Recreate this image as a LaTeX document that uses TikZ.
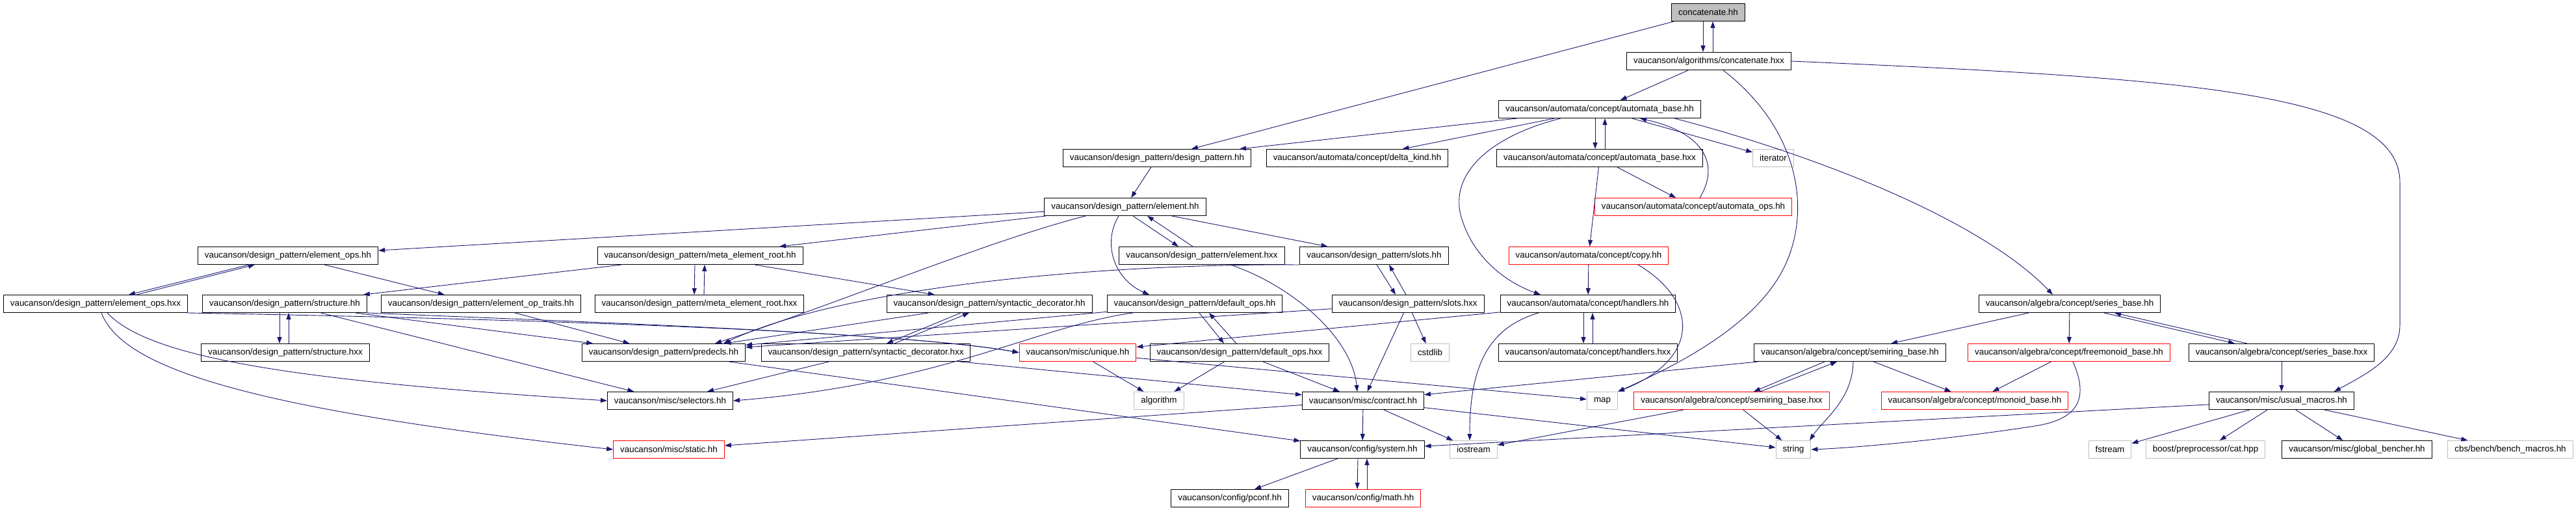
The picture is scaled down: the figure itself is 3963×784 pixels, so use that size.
\documentclass[tikz,border=0pt]{standalone}
\usepackage{fontspec}
\setmainfont{Liberation Sans}
\usetikzlibrary{arrows.meta}
\definecolor{edgeblue}{RGB}{25,25,112}
\definecolor{sysgray}{RGB}{191,191,191}
\tikzset{
  file/.style={draw=black, fill=white, line width=1pt, minimum height=27pt,
    inner xsep=10.5pt, inner ysep=0pt, font=\fontsize{13.4}{16}\selectfont},
  redfile/.style={file, draw=red},
  sysfile/.style={file, draw=sysgray},
  rootfile/.style={file, fill=sysgray},
  edge/.style={draw=edgeblue, line width=0.9pt, -{Triangle[length=10pt,width=7pt]}},
}
\begin{document}
\begin{tikzpicture}[x=1pt,y=1pt,yscale=-1,xscale=1]
\useasboundingbox (0,0) rectangle (3963,784);
% files
\node[rootfile] (concat) at (2628,19) {concatenate.hh};
\node[file] (concathxx) at (2629,94) {vaucanson/algorithms/concatenate.hxx};
\node[file] (autbase) at (2461,168) {vaucanson/automata/concept/automata\_base.hh};
\node[file] (dpattern) at (1780,243) {vaucanson/design\_pattern/design\_pattern.hh};
\node[file] (deltakind) at (2088,243) {vaucanson/automata/concept/delta\_kind.hh};
\node[file] (autbasehxx) at (2461,243) {vaucanson/automata/concept/automata\_base.hxx};
\node[sysfile] (iterator) at (2728,243) {iterator};
\node[file] (element) at (1731,318) {vaucanson/design\_pattern/element.hh};
\node[redfile] (autops) at (2605,318) {vaucanson/automata/concept/automata\_ops.hh};
\node[file] (elemops) at (443,393) {vaucanson/design\_pattern/element\_ops.hh};
\node[file] (metaroot) at (1077,393) {vaucanson/design\_pattern/meta\_element\_root.hh};
\node[file] (elemhxx) at (1849,393) {vaucanson/design\_pattern/element.hxx};
\node[file] (slots) at (2114,393) {vaucanson/design\_pattern/slots.hh};
\node[redfile] (copy) at (2444,393) {vaucanson/automata/concept/copy.hh};
\node[file] (elemopshxx) at (147,467) {vaucanson/design\_pattern/element\_ops.hxx};
\node[file] (structure) at (438,467) {vaucanson/design\_pattern/structure.hh};
\node[file] (optraits) at (740,467) {vaucanson/design\_pattern/element\_op\_traits.hh};
\node[file] (metaroothxx) at (1076,467) {vaucanson/design\_pattern/meta\_element\_root.hxx};
\node[file] (syndec) at (1522,467) {vaucanson/design\_pattern/syntactic\_decorator.hh};
\node[file] (defops) at (1838,467) {vaucanson/design\_pattern/default\_ops.hh};
\node[file] (slotshxx) at (2166,467) {vaucanson/design\_pattern/slots.hxx};
\node[file] (handlers) at (2443,467) {vaucanson/automata/concept/handlers.hh};
\node[file] (series) at (3184,467) {vaucanson/algebra/concept/series\_base.hh};
\node[file] (structhxx) at (439,542) {vaucanson/design\_pattern/structure.hxx};
\node[file] (predecls) at (1021,542) {vaucanson/design\_pattern/predecls.hh};
\node[file] (syndechxx) at (1332,542) {vaucanson/design\_pattern/syntactic\_decorator.hxx};
\node[redfile] (unique) at (1658,542) {vaucanson/misc/unique.hh};
\node[file] (defopshxx) at (1907,542) {vaucanson/design\_pattern/default\_ops.hxx};
\node[sysfile] (cstdlib) at (2200,542) {cstdlib};
\node[file] (handlershxx) at (2443,542) {vaucanson/automata/concept/handlers.hxx};
\node[file] (semiring) at (2846,542) {vaucanson/algebra/concept/semiring\_base.hh};
\node[redfile] (freemonoid) at (3183,542) {vaucanson/algebra/concept/freemonoid\_base.hh};
\node[file] (serieshxx) at (3510,542) {vaucanson/algebra/concept/series\_base.hxx};
\node[file] (selectors) at (1031,616) {vaucanson/misc/selectors.hh};
\node[sysfile] (algorithm) at (1783,616) {algorithm};
\node[file] (contract) at (2097,616) {vaucanson/misc/contract.hh};
\node[sysfile] (map) at (2465,616) {map};
\node[redfile] (semiringhxx) at (2664,616) {vaucanson/algebra/concept/semiring\_base.hxx};
\node[redfile] (monoid) at (3038,616) {vaucanson/algebra/concept/monoid\_base.hh};
\node[file] (usual) at (3510,616) {vaucanson/misc/usual\_macros.hh};
\node[redfile] (static) at (1029,691) {vaucanson/misc/static.hh};
\node[file] (system) at (2096,691) {vaucanson/config/system.hh};
\node[sysfile] (iostream) at (2267,691) {iostream};
\node[sysfile] (string) at (2759,691) {string};
\node[sysfile] (fstream) at (3246,691) {fstream};
\node[sysfile] (boostcat) at (3393,691) {boost/preprocessor/cat.hpp};
\node[file] (bencher) at (3626,691) {vaucanson/misc/global\_bencher.hh};
\node[sysfile] (benchmacros) at (3862,691) {cbs/bench/bench\_macros.hh};
\node[file] (pconf) at (1892,766) {vaucanson/config/pconf.hh};
\node[redfile] (math) at (2097,766) {vaucanson/config/math.hh};
% includes
\draw[edge] ([xshift=-8]concat.south) -- ([xshift=-9]concathxx.north);
\draw[edge] ([xshift=6]concathxx.north) -- ([xshift=7]concat.south);
\draw[edge] (concat) -- (dpattern);
\draw[edge] (concathxx) -- (autbase);
\draw[edge] (concathxx.east) .. controls (3350,120) and (3692,140) .. (3692,280) -- (3692,500) .. controls (3692,550) and (3640,575) .. ([xshift=81]usual.north);
\draw[edge] ([xshift=22]concathxx.south) .. controls (2770,200) and (2790,330) .. (2740,420) .. controls (2690,510) and (2560,570) .. (map.north east);
\draw[edge] (autbase) -- (dpattern);
\draw[edge] (autbase) -- (deltakind);
\draw[edge] ([xshift=-7]autbase.south) -- ([xshift=-7]autbasehxx.north);
\draw[edge] ([xshift=8]autbasehxx.north) -- ([xshift=8]autbase.south);
\draw[edge] (autbase) -- (iterator);
\draw[edge] ([xshift=10]autops.north) .. controls (2645,255) and (2625,205) .. ([xshift=62]autbase.south);
\draw[edge] ([xshift=-60]autbase.south) .. controls (2290,210) and (2225,270) .. (2250,340) .. controls (2270,400) and (2320,435) .. ([xshift=-73]handlers.north);
\draw[edge] ([xshift=115]autbase.south) .. controls (2800,240) and (3050,340) .. ([xshift=-26]series.north);
\draw[edge] (autbasehxx) -- (autops);
\draw[edge] (autbasehxx) -- (copy);
\draw[edge] (copy) -- (handlers);
\draw[edge] ([xshift=76]copy.south) .. controls (2610,460) and (2620,550) .. (map.north east);
\draw[edge] ([xshift=-7]handlers.south) -- ([xshift=-7]handlershxx.north);
\draw[edge] ([xshift=7]handlershxx.north) -- ([xshift=7]handlers.south);
\draw[edge] ([xshift=-76]handlers.south) .. controls (2285,505) and (2261,570) .. ([xshift=-6]iostream.north);
\draw[edge] (handlers) -- (unique);
\draw[edge] (dpattern) -- (element);
\draw[edge] (element) -- (elemops);
\draw[edge] (element) -- (metaroot);
\draw[edge] ([xshift=-61]element.south) .. controls (1520,370) and (1280,470) .. ([xshift=79]predecls.north);
\draw[edge] ([xshift=-10]element.south) .. controls (1695,375) and (1715,430) .. ([xshift=-70]defops.north);
\draw[edge] ([xshift=12]element.south) -- ([xshift=-36]elemhxx.north);
\draw[edge] ([xshift=-14]elemhxx.north) -- ([xshift=34]element.south);
\draw[edge] (element) -- (slots);
\draw[edge] ([xshift=44]elemhxx.south) .. controls (1990,440) and (2080,520) .. ([xshift=-9]contract.north);
\draw[edge] (slots.south west) .. controls (1700,405) and (1300,440) .. ([xshift=92]predecls.north);
\draw[edge] ([xshift=4]slots.south) -- ([xshift=-19]slotshxx.north);
\draw[edge] ([xshift=-3]slotshxx.north) -- ([xshift=23]slots.south);
\draw[edge] (slotshxx) -- (predecls);
\draw[edge] (slotshxx) -- (cstdlib);
\draw[edge] (slotshxx) -- (contract);
\draw[edge] ([xshift=-8]metaroot.south) -- ([xshift=-8]metaroothxx.north);
\draw[edge] ([xshift=7]metaroothxx.north) -- ([xshift=7]metaroot.south);
\draw[edge] (metaroot) -- (structure);
\draw[edge] (metaroot) -- (syndec);
\draw[edge] ([xshift=-60]elemops.south) -- ([xshift=51]elemopshxx.north);
\draw[edge] ([xshift=63]elemopshxx.north) -- ([xshift=-51]elemops.south);
\draw[edge] (elemops) -- (optraits);
\draw[edge] ([xshift=9]elemopshxx.south) .. controls (190,570) and (400,630) .. (static.west);
\draw[edge] ([xshift=18]elemopshxx.south) .. controls (230,550) and (450,585) .. (selectors.west);
\draw[edge] (elemopshxx.south east) .. controls (900,492) and (1400,512) .. (unique.west);
\draw[edge] (structure.south east) .. controls (900,495) and (1400,512) .. (unique.west);
\draw[edge] ([xshift=-8]structure.south) -- ([xshift=-9]structhxx.north);
\draw[edge] ([xshift=5]structhxx.north) -- ([xshift=6]structure.south);
\draw[edge] (structure) -- (selectors);
\draw[edge] (structure) -- (predecls);
\draw[edge] (optraits) -- (predecls);
\draw[edge] (syndec) -- (predecls);
\draw[edge] ([xshift=-44]syndec.south) -- ([xshift=32]syndechxx.north);
\draw[edge] ([xshift=44]syndechxx.north) -- ([xshift=-31]syndec.south);
\draw[edge] (syndechxx) -- (selectors);
\draw[edge] (syndechxx) -- (contract);
\draw[edge] (defops) -- (predecls);
\draw[edge] ([xshift=-95]defops.south) .. controls (1600,500) and (1450,590) .. (selectors.east);
\draw[edge] ([xshift=7]defops.south) -- ([xshift=-24]defopshxx.north);
\draw[edge] ([xshift=-5]defopshxx.north) -- ([xshift=22]defops.south);
\draw[edge] (defopshxx) -- (algorithm);
\draw[edge] (defopshxx) -- (contract);
\draw[edge] (unique) -- (algorithm);
\draw[edge] (unique) -- (map);
\draw[edge] (predecls) -- (system);
\draw[edge] (contract) -- (static);
\draw[edge] (contract) -- (system);
\draw[edge] (contract) -- (iostream);
\draw[edge] (contract) -- (string);
\draw[edge] ([xshift=-7]system.south) -- ([xshift=-9]math.north);
\draw[edge] ([xshift=6]math.north) -- ([xshift=7]system.south);
\draw[edge] (system) -- (pconf);
\draw[edge] (series) -- (semiring);
\draw[edge] (series) -- (freemonoid);
\draw[edge] ([xshift=53]series.south) -- ([xshift=-72]serieshxx.north);
\draw[edge] ([xshift=-53]serieshxx.north) -- ([xshift=69]series.south);
\draw[edge] (serieshxx) -- (usual);
\draw[edge] (semiring) -- (contract);
\draw[edge] ([xshift=-39]semiring.south) -- ([xshift=34]semiringhxx.north);
\draw[edge] ([xshift=44]semiringhxx.north) -- ([xshift=-20]semiring.south);
\draw[edge] ([xshift=5]semiring.south) .. controls (2850,615) and (2805,645) .. ([xshift=25]string.north);
\draw[edge] (semiring) -- (monoid);
\draw[edge] (semiringhxx) -- (string);
\draw[edge] (semiringhxx) -- (iostream);
\draw[edge] (freemonoid) -- (monoid);
\draw[edge] ([xshift=6]freemonoid.south) .. controls (3215,615) and (3195,645) .. (3130,655) .. controls (3000,675) and (2860,688) .. (string.east);
\draw[edge] (usual) -- (system);
\draw[edge] (usual) -- (fstream);
\draw[edge] (usual) -- (boostcat);
\draw[edge] (usual) -- (bencher);
\draw[edge] (usual) -- (benchmacros);
\end{tikzpicture}
\end{document}
